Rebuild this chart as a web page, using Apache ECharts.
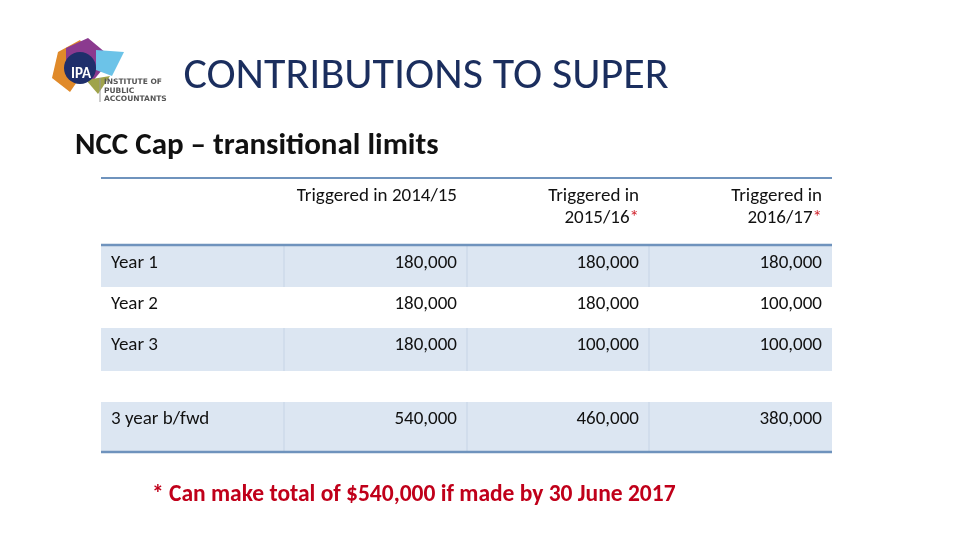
<!DOCTYPE html>
<html>
<head>
<meta charset="utf-8">
<script src="https://cdn.jsdelivr.net/npm/echarts@6/dist/echarts.min.js"></script>
<style>html,body{margin:0;background:#fff}#main{width:960px;height:540px}</style>
</head>
<body>
<div id="main"></div>
<script>
// table content
const columns = ['Triggered in 2014/15', 'Triggered in\n2015/16', 'Triggered in\n2016/17'];
const columnStar = [false, true, true];
const rowLabels = ['Year 1', 'Year 2', 'Year 3', '3 year b/fwd'];
const trig1415 = [180000, 180000, 180000, 540000];
const trig1516 = [180000, 180000, 100000, 460000];
const trig1617 = [180000, 100000, 100000, 380000];

const FONT = 'Carlito, "Liberation Sans Narrow", "Open Sans", sans-serif';
const chart = echarts.init(document.getElementById('main'));

const rowTop = [246, 287, 328, 402];
const rowBot = [287, 328, 371, 451];
const rowShade = [true, false, true, true];
const colX = [101, 284, 467, 649, 832];
const fmt = v => v.toLocaleString('en-US');
const BODY = '19px ' + FONT;

const g = [];
// logo (rough)
g.push({ type: 'polygon', shape: { points: [[58, 52], [80, 40], [92, 60], [70, 92], [52, 78]] }, style: { fill: '#e08a2a' } });
g.push({ type: 'polygon', shape: { points: [[66, 48], [88, 38], [112, 58], [92, 82], [66, 76]] }, style: { fill: '#8b3a8f' } });
g.push({ type: 'polygon', shape: { points: [[96, 50], [124, 52], [112, 76], [96, 70]] }, style: { fill: '#6cc3e8' } });
g.push({ type: 'polygon', shape: { points: [[86, 80], [110, 76], [98, 94]] }, style: { fill: '#9fa34a' } });
g.push({ type: 'circle', shape: { cx: 80, cy: 68, r: 16 }, style: { fill: '#1f2f6b' } });
g.push({ type: 'text', x: 81, y: 74, style: { text: 'IPA', fill: '#fff', font: 'bold 15px ' + FONT, align: 'center', verticalAlign: 'middle' } });
g.push({ type: 'line', shape: { x1: 100, y1: 78, x2: 100, y2: 102 }, style: { stroke: '#999', lineWidth: 1 } });
g.push({ type: 'text', x: 104, y: 78, style: { text: 'INSTITUTE OF\nPUBLIC\nACCOUNTANTS', fill: '#555', font: 'bold 7.5px "DejaVu Sans"', lineHeight: 8.5 } });
// titles
g.push({ type: 'text', x: 426, y: 77, style: { text: 'CONTRIBUTIONS TO SUPER', fill: '#1b2e5e', font: '44px ' + FONT, align: 'center', verticalAlign: 'middle' } });
g.push({ type: 'text', x: 75, y: 146, style: { text: 'NCC Cap – transitional limits', fill: '#111', font: 'bold 31px ' + FONT, verticalAlign: 'middle' } });

// shaded rows
rowTop.forEach((t, i) => {
  if (rowShade[i]) g.push({ type: 'rect', shape: { x: colX[0], y: t, width: colX[4] - colX[0], height: rowBot[i] - t }, style: { fill: '#dce6f2' } });
});
// column dividers
[1, 2, 3].forEach(c => rowTop.forEach((t, i) => {
  if (rowShade[i]) g.push({ type: 'line', shape: { x1: colX[c], y1: t, x2: colX[c], y2: rowBot[i] }, style: { stroke: '#c6d4e6', lineWidth: 1 } });
}));
// rules
[[178, 2], [245, 2.5], [452, 2.5]].forEach(([y, w]) => g.push({ type: 'line', shape: { x1: colX[0], y1: y, x2: colX[4], y2: y }, style: { stroke: '#6f93bd', lineWidth: w } }));

// header
columns.forEach((c, i) => {
  const lines = c.split('\n');
  const xr = colX[i + 2] - 10;
  g.push({ type: 'text', x: xr, y: 196, style: { text: lines[0], fill: '#111', font: BODY, align: 'right', verticalAlign: 'middle' } });
  if (lines.length > 1) {
    g.push({ type: 'text', x: xr, y: 218, style: { text: '{a|' + lines[1] + '}' + (columnStar[i] ? '{s|*}' : ''), align: 'right', verticalAlign: 'middle',
      rich: { a: { fill: '#111', font: BODY }, s: { fill: '#d0202a', font: BODY } } } });
  }
});

// body
const series = [trig1415, trig1516, trig1617];
rowLabels.forEach((r, i) => {
  const cy = i === 3 ? 419 : rowTop[i] + 17;
  g.push({ type: 'text', x: 111, y: cy, style: { text: r, fill: '#111', font: BODY, verticalAlign: 'middle' } });
  series.forEach((s, c) => {
    g.push({ type: 'text', x: colX[c + 2] - 10, y: cy, style: { text: fmt(s[i]), fill: '#111', font: BODY, align: 'right', verticalAlign: 'middle' } });
  });
});

g.push({ type: 'text', x: 152, y: 495, style: { text: '* Can make total of $540,000 if made by 30 June 2017', fill: '#c0001a', font: 'bold 23.5px ' + FONT, verticalAlign: 'middle' } });

chart.setOption({ animation: false, graphic: { elements: g } });
window.addEventListener('resize', () => chart.resize());
</script>
</body>
</html>
